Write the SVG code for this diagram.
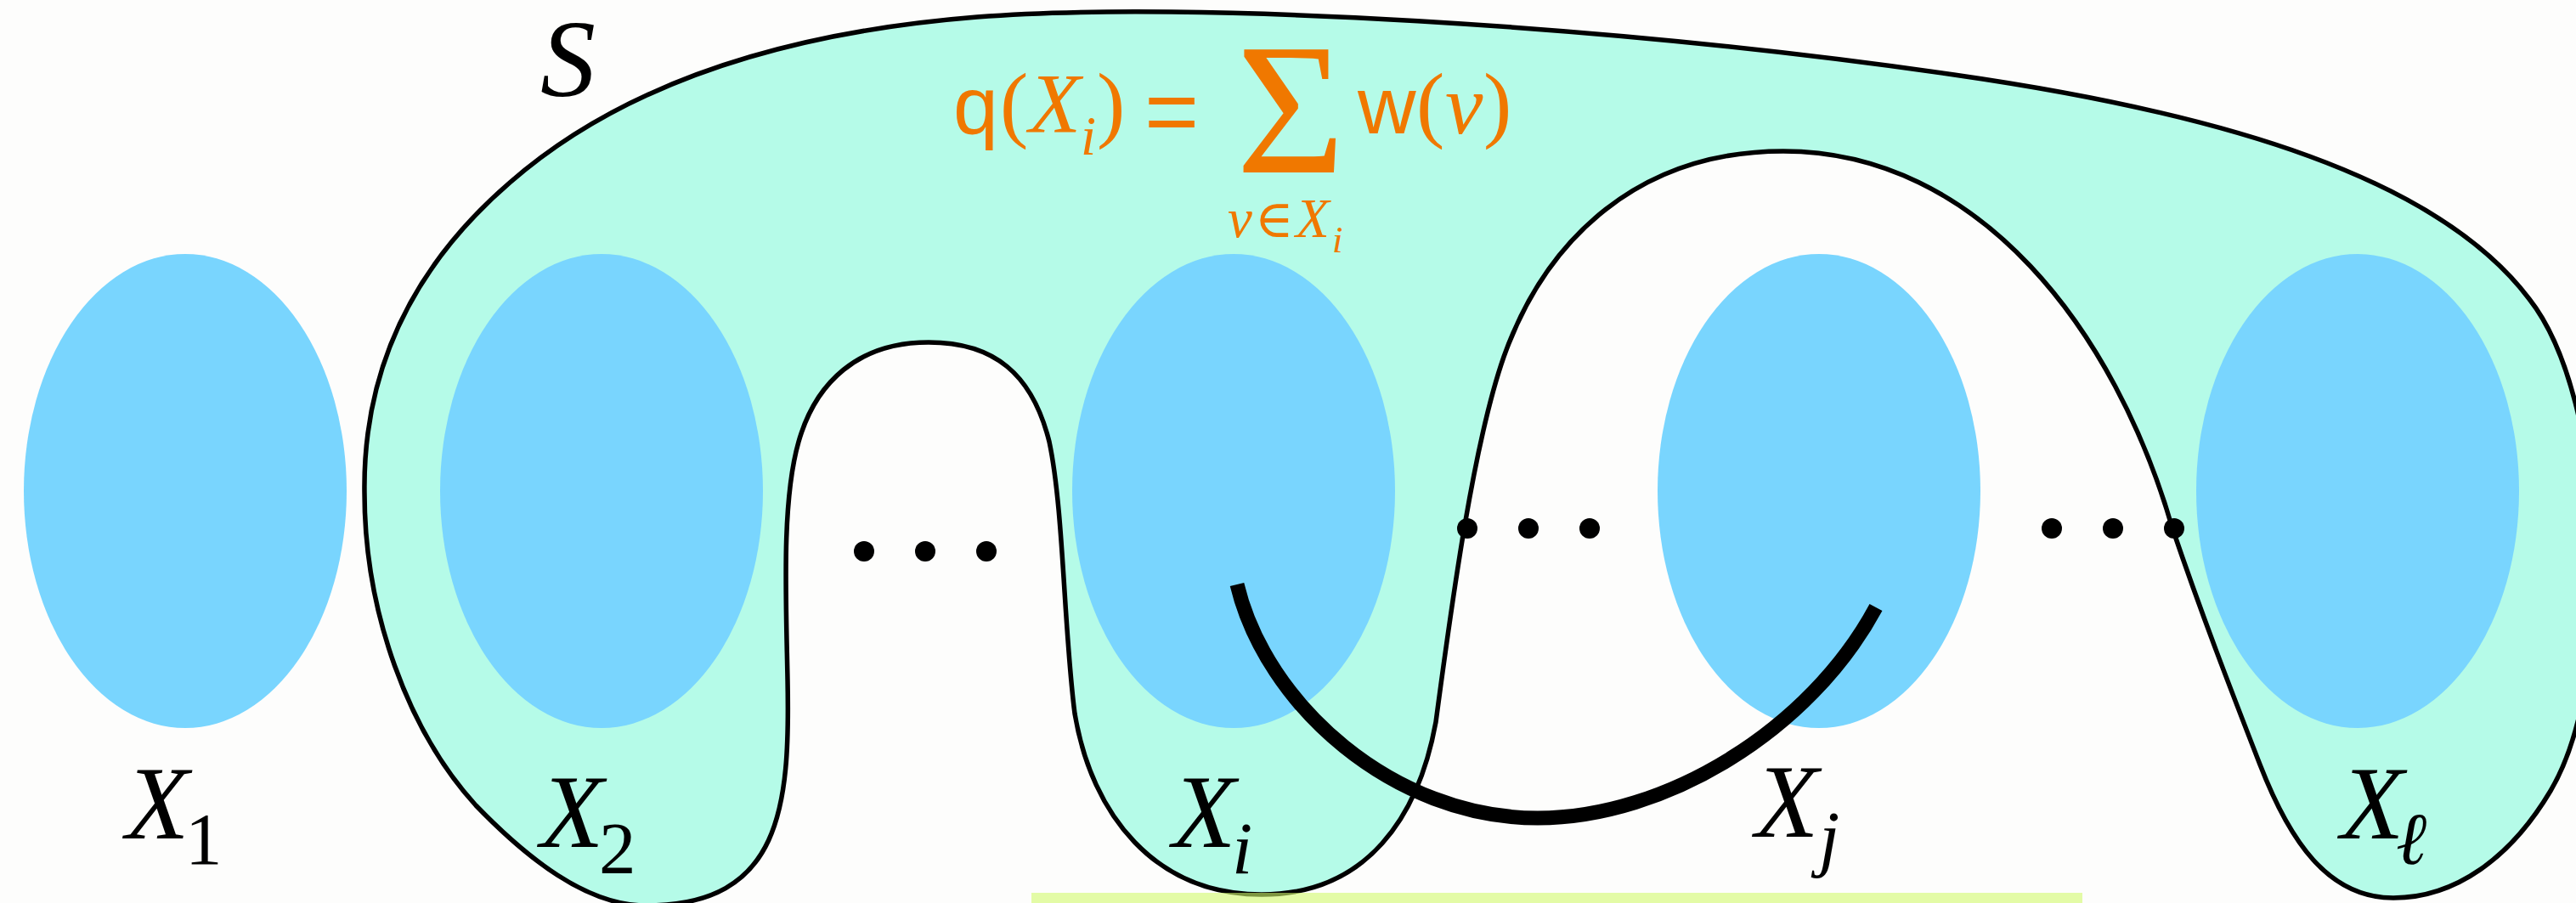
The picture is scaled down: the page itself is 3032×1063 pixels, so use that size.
<svg xmlns="http://www.w3.org/2000/svg" width="3032" height="1063" viewBox="0 0 3032 1063">
<defs>
<style>
.bg{fill:#fdfdfc}
.set{fill:#b5fbe8;stroke:#000;stroke-width:5.5;stroke-linejoin:round}
.part{fill:#79d5fe}
.edge{fill:none;stroke:#000;stroke-width:17;stroke-linecap:butt}
.dot{fill:#000}
.lbl{font-family:"Liberation Serif","DejaVu Serif",serif;fill:#000}
.it{font-style:italic}
.f{fill:#f07800;font-family:"Liberation Serif","DejaVu Serif",serif}
.sans{font-family:"Liberation Sans","DejaVu Sans",sans-serif}
.hl{fill:#d2fa6c;fill-opacity:0.6}
</style>
</defs>
<rect class="bg" x="0" y="0" width="3032" height="1063"/>
<g id="set-S">
<path class="set" d="M 429 580 C 427 430 490 310 600 215 C 720 110 900 40 1150 20 C 1400 0 1900 30 2300 88 C 2620 134 2870 210 2977 352 C 3070 470 3080 800 3002 931 C 2955 1010 2890 1057 2817 1057 C 2740 1057 2695 990 2660 900 C 2625 810 2592 725 2557 622 C 2490 390 2330 178 2099 178 C 1930 178 1820 280 1770 420 C 1735 520 1710 700 1690 850 C 1670 960 1610 1053 1485 1053 C 1360 1053 1285 960 1265 840 C 1252 740 1252 600 1235 520 C 1215 440 1170 403 1093 403 C 1010 403 960 450 940 520 C 920 590 925 700 927 800 C 930 950 920 1066 760 1066 C 690 1066 620 1010 560 948 C 480 860 429 720 429 580 Z"/>
<text class="lbl it" x="636" y="113" font-size="130">S</text>
</g>
<g id="node-X1">
<ellipse class="part" cx="218" cy="578" rx="190" ry="279"/>
<text class="lbl" y="987"><tspan class="it" x="148" font-size="122">X</tspan><tspan x="218" y="1017" font-size="87">1</tspan></text>
</g>
<g id="node-X2">
<ellipse class="part" cx="708" cy="578" rx="190" ry="279"/>
<text class="lbl" y="997"><tspan class="it" x="636" font-size="122">X</tspan><tspan x="705" y="1028" font-size="87">2</tspan></text>
</g>
<g id="node-Xi">
<ellipse class="part" cx="1452" cy="578" rx="190" ry="279"/>
<text class="lbl it" y="997"><tspan x="1380" font-size="122">X</tspan><tspan x="1450" y="1028" font-size="87">i</tspan></text>
</g>
<g id="node-Xj">
<ellipse class="part" cx="2141" cy="578" rx="190" ry="279"/>
<text class="lbl it" y="985"><tspan x="2066" font-size="122">X</tspan><tspan x="2141" y="1015" font-size="87">j</tspan></text>
</g>
<g id="node-Xl">
<ellipse class="part" cx="2775" cy="578" rx="190" ry="279"/>
<text class="lbl it" y="987"><tspan x="2755" font-size="122">X</tspan><tspan x="2820" y="1017" font-size="87">ℓ</tspan></text>
</g>
<g id="connectors">
<path class="edge" d="M 1456 688 C 1490 830 1640 963 1810 963 C 1960 963 2130 860 2208 715"/>
</g>
<g id="dots">
<circle class="dot" cx="1017" cy="649" r="12"/>
<circle class="dot" cx="1089" cy="649" r="12"/>
<circle class="dot" cx="1161" cy="649" r="12"/>
<circle class="dot" cx="1727" cy="622" r="12"/>
<circle class="dot" cx="1799" cy="622" r="12"/>
<circle class="dot" cx="1871" cy="622" r="12"/>
<circle class="dot" cx="2415" cy="622" r="12"/>
<circle class="dot" cx="2487" cy="622" r="12"/>
<circle class="dot" cx="2559" cy="622" r="12"/>
</g>
<g id="formula">
<text class="f" font-size="100"><tspan class="sans" x="1122" y="157" font-size="95">q</tspan><tspan x="1177" y="155">(</tspan><tspan class="it" x="1211" y="155">X</tspan><tspan class="it" x="1272" y="182" font-size="65">i</tspan><tspan x="1291" y="155">)</tspan><tspan class="sans" x="1347" y="168" font-size="110">=</tspan><tspan x="1455" y="203" font-size="220">Σ</tspan><tspan class="sans" x="1598" y="157" font-size="95">w</tspan><tspan x="1667" y="155">(</tspan><tspan class="it" x="1701" y="157">v</tspan><tspan x="1746" y="155">)</tspan><tspan class="it" x="1445" y="279" font-size="65">v</tspan><tspan x="1477" y="279" font-size="62">∈</tspan><tspan class="it" x="1525" y="279" font-size="65">X</tspan><tspan class="it" x="1568" y="297" font-size="45">i</tspan></text>
</g>
<rect class="hl" x="1214" y="1051" width="1237" height="12"/>
</svg>
